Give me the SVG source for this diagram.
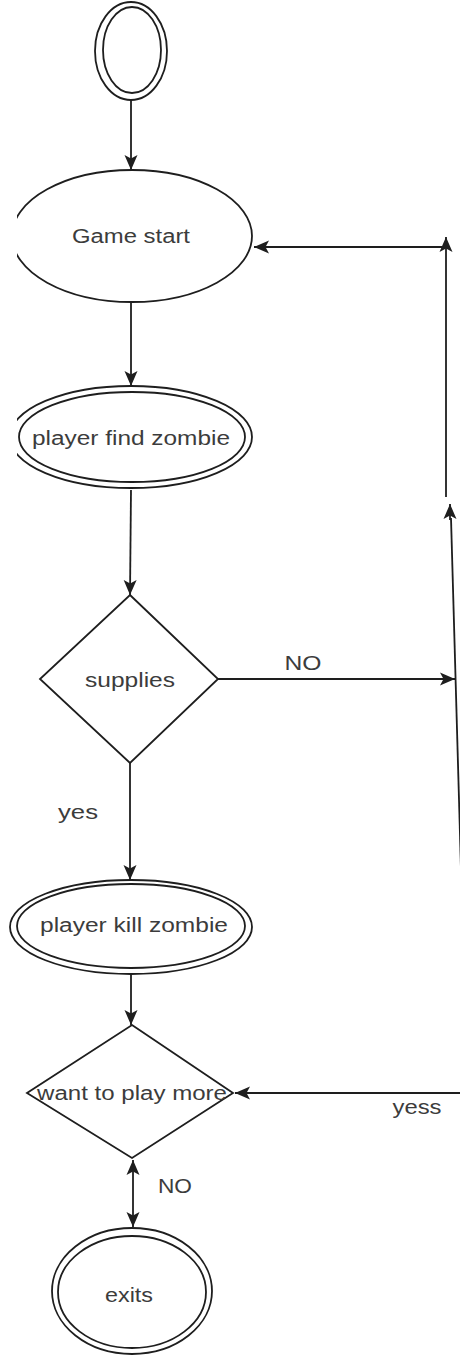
<svg xmlns="http://www.w3.org/2000/svg" width="460" height="1360" viewBox="0 0 460 1360">
<style>
.shape{fill:none;stroke:#1e1e1e;stroke-width:1.8}
.line{fill:none;stroke:#1e1e1e;stroke-width:1.8}
.t{font-family:"Liberation Sans",Arial,sans-serif;font-size:20px;fill:#3c3c3c;text-anchor:middle}
</style>
<defs>
<marker id="arr" markerUnits="userSpaceOnUse" markerWidth="16" markerHeight="16" viewBox="0 0 16 16" refX="15" refY="8" orient="auto-start-reverse">
<path d="M0,1.5 L15,8 L0,14.5 L3.5,8 z" fill="#1e1e1e"/>
</marker>
<clipPath id="clipL"><rect x="17" y="0" width="443" height="1360"/></clipPath>
</defs>
<rect width="460" height="1360" fill="#ffffff"/>
<g id="connectors">
<line class="line" x1="131" y1="100" x2="131" y2="170" marker-end="url(#arr)"/>
<line class="line" x1="131" y1="302" x2="131" y2="386" marker-end="url(#arr)"/>
<line class="line" x1="131" y1="490" x2="130" y2="595" marker-end="url(#arr)"/>
<line class="line" x1="218" y1="679" x2="455" y2="679" marker-end="url(#arr)"/>
<line class="line" x1="451" y1="518" x2="461" y2="870"/>
<line class="line" x1="450" y1="520" x2="450" y2="504" marker-end="url(#arr)"/>
<line class="line" x1="446" y1="497" x2="446" y2="237" marker-end="url(#arr)"/>
<line class="line" x1="442" y1="247" x2="254" y2="247" marker-end="url(#arr)"/>
<line class="line" x1="130" y1="763" x2="130" y2="880" marker-end="url(#arr)"/>
<line class="line" x1="131" y1="975" x2="131" y2="1025" marker-end="url(#arr)"/>
<line class="line" x1="460" y1="1093" x2="235" y2="1093" marker-end="url(#arr)"/>
<line class="line" x1="133" y1="1160" x2="133" y2="1227" marker-start="url(#arr)" marker-end="url(#arr)"/>
<text class="t" x="303" y="670" textLength="37" lengthAdjust="spacingAndGlyphs">NO</text>
<text class="t" x="78" y="819" textLength="40" lengthAdjust="spacingAndGlyphs">yes</text>
<text class="t" x="417" y="1114" textLength="49" lengthAdjust="spacingAndGlyphs">yess</text>
<text class="t" x="175" y="1193" textLength="34" lengthAdjust="spacingAndGlyphs">NO</text>
</g>
<g id="start">
<ellipse class="shape" cx="131" cy="51" rx="36" ry="49"/>
<ellipse class="shape" cx="132" cy="50" rx="29" ry="43"/>
</g>
<g id="game-start">
<ellipse class="shape" cx="132" cy="236" rx="120" ry="66" clip-path="url(#clipL)"/>
<text class="t" x="131" y="243" textLength="118" lengthAdjust="spacingAndGlyphs">Game start</text>
</g>
<g id="player-find-zombie">
<ellipse class="shape" cx="131" cy="437" rx="121" ry="51" clip-path="url(#clipL)"/>
<ellipse class="shape" cx="132" cy="437" rx="113" ry="45"/>
<text class="t" x="131" y="445" textLength="198" lengthAdjust="spacingAndGlyphs">player find zombie</text>
</g>
<g id="supplies">
<polygon class="shape" points="130,595 218,679 130,763 40,679"/>
<text class="t" x="130" y="687" textLength="90" lengthAdjust="spacingAndGlyphs">supplies</text>
</g>
<g id="player-kill-zombie">
<ellipse class="shape" cx="131" cy="927" rx="121" ry="47"/>
<ellipse class="shape" cx="131" cy="926" rx="114" ry="42"/>
<text class="t" x="134" y="932" textLength="188" lengthAdjust="spacingAndGlyphs">player kill zombie</text>
</g>
<g id="want-to-play-more">
<polygon class="shape" points="132,1025 233,1093 132,1158 27,1093"/>
<text class="t" x="132" y="1100" textLength="190" lengthAdjust="spacingAndGlyphs">want to play more</text>
</g>
<g id="exits">
<ellipse class="shape" cx="132" cy="1291" rx="80" ry="63"/>
<ellipse class="shape" cx="132" cy="1292" rx="74" ry="56"/>
<text class="t" x="129" y="1302" textLength="48" lengthAdjust="spacingAndGlyphs">exits</text>
</g>
</svg>
